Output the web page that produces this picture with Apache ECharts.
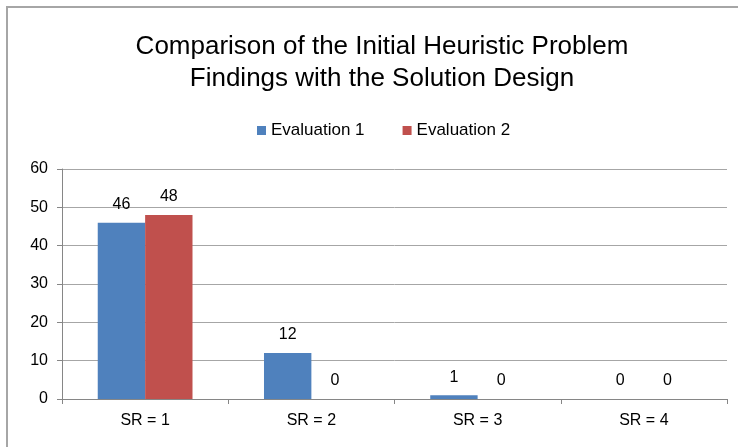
<!DOCTYPE html>
<html>
<head>
<meta charset="utf-8">
<script src="https://cdn.jsdelivr.net/npm/echarts@6/dist/echarts.min.js"></script>
<style>
  html, body { margin: 0; padding: 0; background: #fff; }
  #chart { width: 738px; height: 447px; }
</style>
</head>
<body>
<div id="chart"></div>
<script>
// categories and values
var categories = ['SR = 1', 'SR = 2', 'SR = 3', 'SR = 4'];
var evaluation1 = [46, 12, 1, 0];
var evaluation2 = [48, 0, 0, 0];
var seriesNames = ['Evaluation 1', 'Evaluation 2'];
var yTicks = [0, 10, 20, 30, 40, 50, 60];

var font = 'Liberation Sans';
var myChart = echarts.init(document.getElementById('chart'));
myChart.setOption({
    color: ['#4f81bd', '#c0504d'],
    animation: false,
    graphic: [{
        type: 'rect',
        shape: { x: 7, y: 7, width: 740, height: 450 },
        style: { fill: 'none', stroke: '#a6a6a6', lineWidth: 2 }
    }],
    title: {
        text: 'Comparison of the Initial Heuristic Problem\nFindings with the Solution Design',
        left: 377,
        textAlign: 'center',
        top: 26,
        textStyle: {
            fontFamily: font,
            fontSize: 26,
            fontWeight: 'normal',
            color: '#000',
            lineHeight: 32
        }
    },
    legend: {
        top: 117,
        left: 252,
        itemWidth: 9,
        itemHeight: 9,
        itemGap: 38,
        icon: 'rect',
        data: seriesNames,
        textStyle: { fontFamily: font, fontSize: 17, color: '#000' }
    },
    grid: { left: 62, right: 11, top: 169, bottom: 48, containLabel: false },
    xAxis: {
        type: 'category',
        data: categories,
        axisLine: { lineStyle: { color: '#868686' } },
        axisTick: { show: true, length: 5, lineStyle: { color: '#868686' } },
        axisLabel: { fontFamily: font, fontSize: 16, color: '#000', margin: 14 }
    },
    yAxis: {
        type: 'value',
        min: yTicks[0],
        max: yTicks[yTicks.length - 1],
        interval: 10,
        axisLine: { show: true, lineStyle: { color: '#868686' } },
        axisTick: { show: true, length: 5, lineStyle: { color: '#868686' } },
        splitLine: { lineStyle: { color: '#a6a6a6' } },
        axisLabel: { fontFamily: font, fontSize: 16, color: '#000', margin: 14 }
    },
    series: [
        {
            name: seriesNames[0],
            type: 'bar',
            data: evaluation1,
            barGap: '0%',
            barCategoryGap: '43%',
            label: { show: true, position: 'top', distance: 10, fontFamily: font, fontSize: 16, color: '#000' }
        },
        {
            name: seriesNames[1],
            type: 'bar',
            data: evaluation2,
            label: { show: true, position: 'top', distance: 10, fontFamily: font, fontSize: 16, color: '#000' }
        }
    ]
});
</script>
</body>
</html>
